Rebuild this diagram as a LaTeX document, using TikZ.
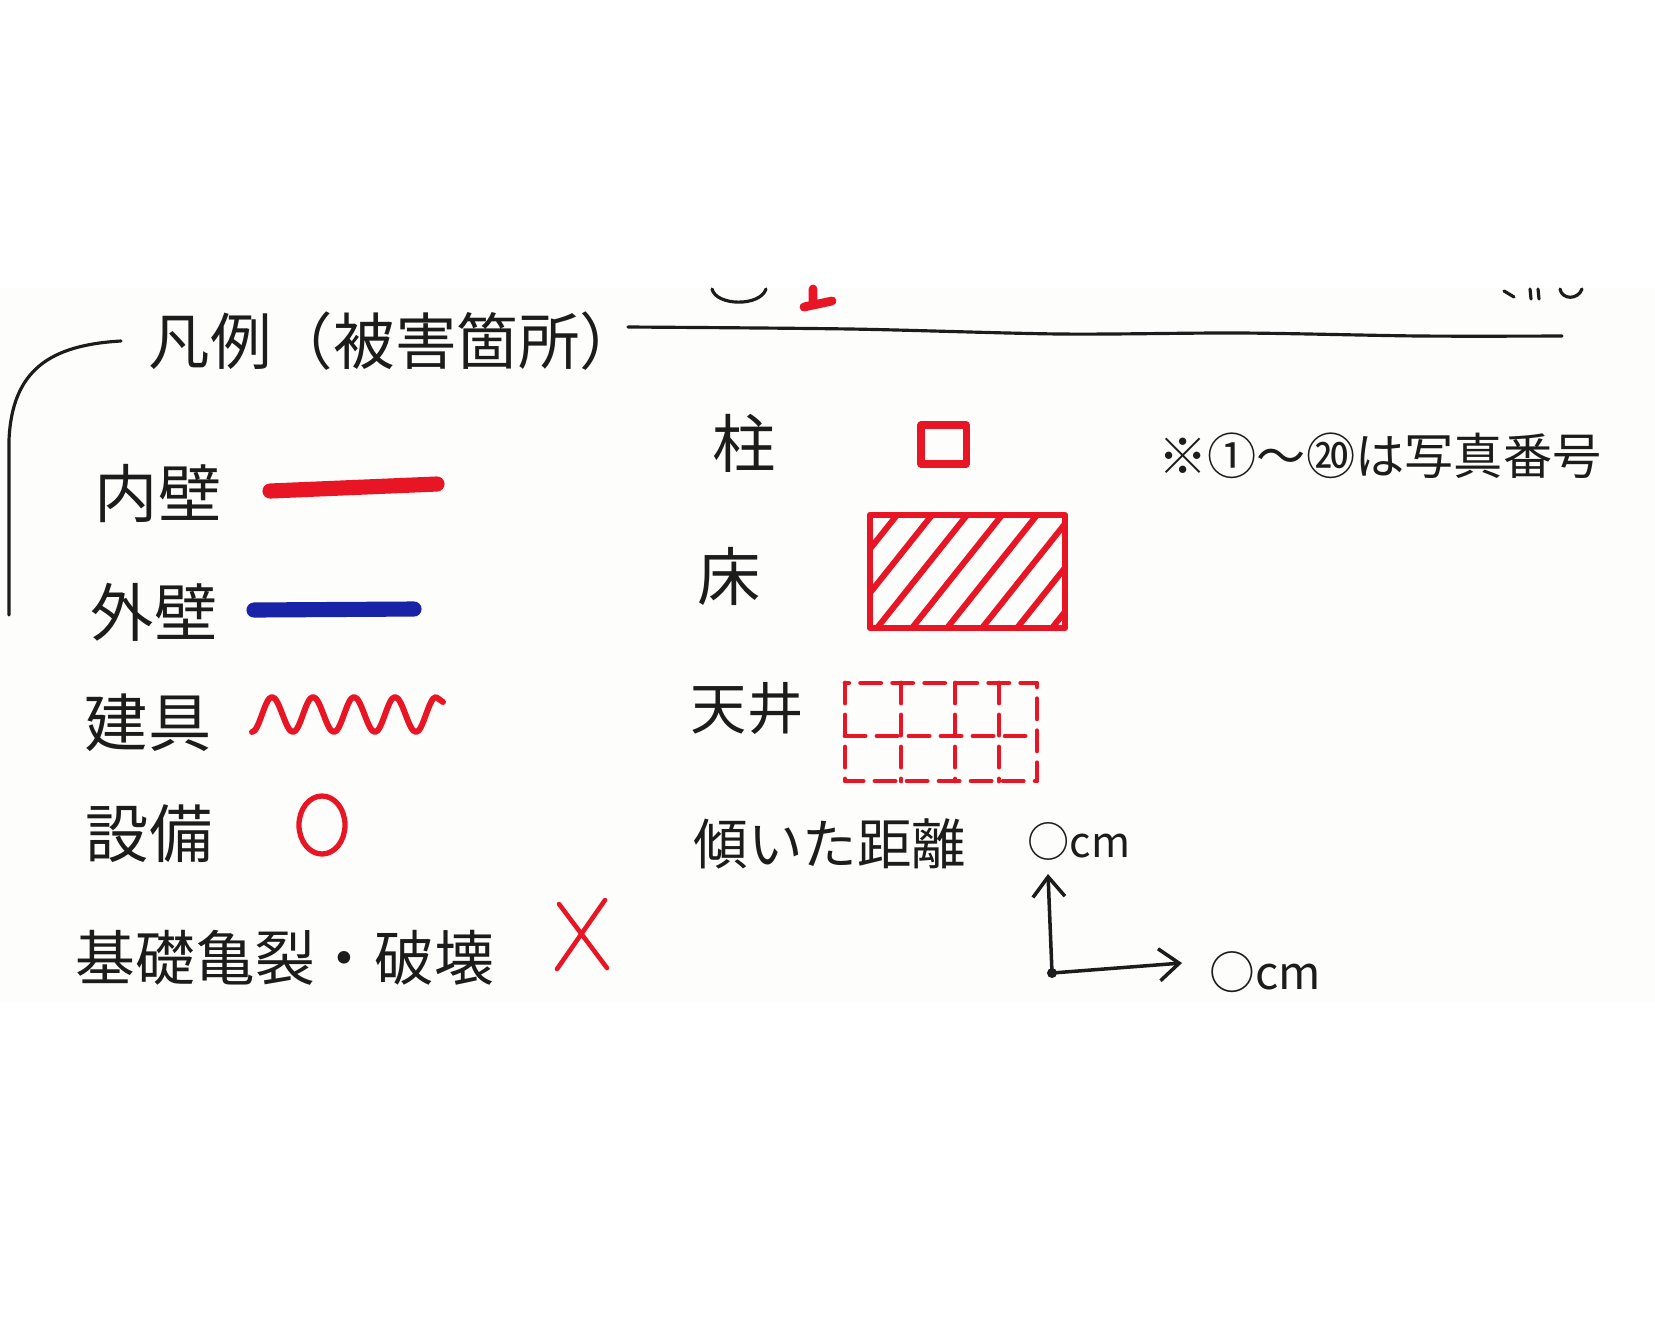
\documentclass[tikz,border=0pt]{standalone}
\usepackage{fontspec}
\newfontfamily\jpfont{Noto Sans CJK JP}
\usetikzlibrary{arrows.meta}
\definecolor{inkred}{RGB}{232,22,36}
\definecolor{inkblue}{RGB}{25,35,165}
\definecolor{ink}{RGB}{28,28,28}
\definecolor{paper}{RGB}{253,253,251}
\tikzset{
  legtext/.style={inner sep=0pt, text=ink, font=\jpfont\fontsize{18}{20}\selectfont},
  redpen/.style={draw=inkred, line cap=round, line join=round},
  blackpen/.style={draw=ink, line width=0.9pt, line cap=round, line join=round},
}
\begin{document}
\begin{tikzpicture}[x=0.01cm, y=-0.01cm]
      \useasboundingbox (0,0) rectangle (1655,1333);
      \fill[paper] (0,288) rectangle (1655,1002);

      \draw[blackpen] (9,615) -- (9,440) .. controls (12,370) and (50,345) .. (121,341);
      \node[legtext, font=\jpfont\fontsize{17.5}{20}\selectfont] (title) at (395,341) {凡例（被害箇所）};
      \draw[blackpen] plot[smooth] coordinates {(628,327) (850,329) (1060,334) (1240,333) (1420,336) (1562,336)};

      % cut-off marks at the top edge
      \draw[blackpen] (712,289) .. controls (716,306) and (760,307) .. (766,289);
      \draw[redpen, line width=2.5pt] (813,289) -- (813,305) (804,307) -- (832,301);
      \draw[blackpen] (1504,291) -- (1514,297) (1530,289) -- (1531,299) (1538,289) -- (1539,299) (1560,289) .. controls (1562,300) and (1578,300) .. (1582,289);

      \foreach [count=\i] \txt/\x/\y in {内壁/158/493, 外壁/154/612, 建具/148/723, 設備/149/834} {
        \node[legtext] (left\i) at (\x,\y) {\txt};
      }
      \node[legtext, font=\jpfont\fontsize{17}{20}\selectfont] (kiso) at (285,958) {基礎亀裂・破壊};

      \foreach [count=\i] \txt/\x/\y in {柱/744/443, 床/729/576} {
        \node[legtext] (right\i) at (\x,\y) {\txt};
      }
      \node[legtext, font=\jpfont\fontsize{16}{18}\selectfont] (right3) at (747,708) {天井};
      \node[legtext, font=\jpfont\fontsize{15.5}{18}\selectfont] (keisha) at (830,844) {傾いた距離};
      \node[legtext, font=\jpfont\fontsize{14}{17}\selectfont] (note) at (1380,456) {※①～⑳は写真番号};

      \draw[inkred, line width=4.3pt, line cap=round] (270,491) -- (437,484);
      \draw[inkblue, line width=4.3pt, line cap=round] (254,610) -- (414,609);
      \draw[redpen, line width=1.7pt] (252,732)
        \foreach \k in {1,...,4} { cos ++(10,-17.5) sin ++(10,-17.5) cos ++(10.5,17.5) sin ++(10.5,17.5) }
        cos ++(10,-17.5) sin ++(10,-17.5) -- ++(7,5);
      \draw[redpen, line width=1.5pt] (322,825) ellipse [x radius=0.23cm, y radius=0.29cm];
      \draw[redpen, line width=1.3pt] (559,904) -- (607,968) (605,900) -- (557,969);

      \draw[redpen, line width=2pt] (921,425) rectangle (966,464);
      \draw[redpen, line width=1.8pt] (870,515) rectangle (1065,628);
      \begin{scope}
        \clip (870,515) rectangle (1065,628);
        \foreach \t in {0,...,7}
          \draw[redpen, line width=1.7pt] (897+35*\t,515) -- ++(-90,113);
      \end{scope}
      \draw[redpen, line width=1.4pt, dash pattern=on 0.2cm off 0.12cm] (845,683) rectangle (1037,781)
        (901,683) -- (901,781) (955,683) -- (955,781) (999,683) -- (999,781) (845,736) -- (1037,736);

      \coordinate (origin) at (1052,973);
      \coordinate (ytip) at (1048,874);
      \coordinate (xtip) at (1182,963);
      \fill[ink] (origin) circle (0.05cm);
      \draw[blackpen, line width=1pt, -{Straight Barb[length=0.2cm, width=0.32cm]}] (origin) -- (ytip);
      \draw[blackpen, line width=1pt, -{Straight Barb[length=0.2cm, width=0.32cm]}] (origin) -- (xtip);
      \node[inner sep=0pt, anchor=base west, text=ink] (ylen) at (1027,857)
        {\jpfont{\fontsize{12}{14}\selectfont ○}{\fontsize{12}{14}\selectfont cm}};
      \node[inner sep=0pt, anchor=base west, text=ink] (xlen) at (1209,989)
        {\jpfont{\fontsize{13}{15}\selectfont ○}{\fontsize{13}{15}\selectfont cm}};
\end{tikzpicture}
\end{document}
